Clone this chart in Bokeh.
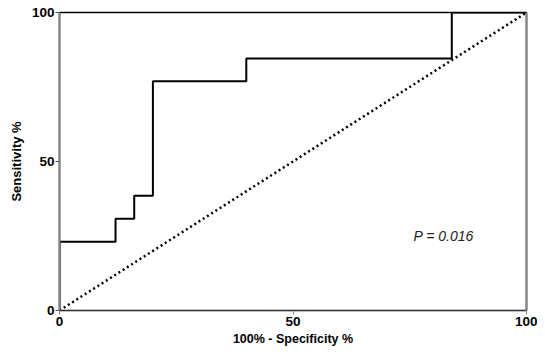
from bokeh.plotting import figure
from bokeh.models import Range1d, LinearAxis, FixedTicker, Label
from bokeh.embed import file_html
from bokeh.resources import INLINE

# ROC curve data (100% - specificity, sensitivity)
fpr = [0, 0, 12, 12, 16, 16, 20, 20, 40, 40, 84, 84, 100]
tpr = [0, 23.1, 23.1, 30.8, 30.8, 38.5, 38.5, 76.9, 76.9, 84.6, 84.6, 100, 100]
diag_x = [0, 100]
diag_y = [0, 100]
ticks = [0, 50, 100]
p_label = "P = 0.016"

FONT = "Liberation Sans"

p = figure(width=537, height=348, output_backend="svg", toolbar_location=None,
           x_range=Range1d(0, 100), y_range=Range1d(0, 100),
           min_border_left=59, min_border_right=11, min_border_top=12, min_border_bottom=37)
p.grid.visible = False
p.background_fill_color = "white"
p.border_fill_color = "white"
p.outline_line_color = "black"
p.outline_line_width = 1.5

for ax in (p.xaxis[0], p.yaxis[0]):
    ax.ticker = FixedTicker(ticks=ticks)
    ax.minor_tick_line_color = None
    ax.major_tick_out = 4
    ax.major_tick_in = 0
    ax.major_label_text_font = FONT
    ax.major_label_text_font_style = "bold"
    ax.major_label_text_font_size = "13.5px"
    ax.major_label_text_color = "black"
    ax.axis_label_text_font = FONT
    ax.axis_label_text_font_style = "bold"
    ax.axis_label_text_font_size = "12.5px"
    ax.axis_label_text_color = "black"

p.yaxis.axis_label_text_font_size = "13px"
p.xaxis.axis_label = "100% - Specificity %"
p.yaxis.axis_label = "Sensitivity %"
p.xaxis.axis_line_color = "#333333"
p.xaxis.major_tick_line_color = "#888888"
p.yaxis.axis_line_color = "#888888"
p.yaxis.axis_line_width = 2
p.yaxis.major_tick_line_color = "#555555"
p.xaxis.major_label_standoff = 2
p.yaxis.major_label_standoff = 1
p.xaxis.axis_label_standoff = 3
p.yaxis.axis_label_standoff = 5

right = LinearAxis(ticker=FixedTicker(ticks=[]), axis_line_color="#888888", axis_line_width=2,
                   major_label_text_font_size="0px", major_tick_line_color=None,
                   minor_tick_line_color=None)
p.add_layout(right, "right")

p.line(diag_x, diag_y, line_color="black", line_width=2.5, line_dash="2 3")
p.line(fpr, tpr, line_color="black", line_width=2)

p.add_layout(Label(x=75.8, y=25, text=p_label, text_font=FONT, text_font_style="italic",
                   text_font_size="14px", text_color="#222222", text_baseline="middle"))

open("out.html", "w").write(file_html(p, INLINE))
